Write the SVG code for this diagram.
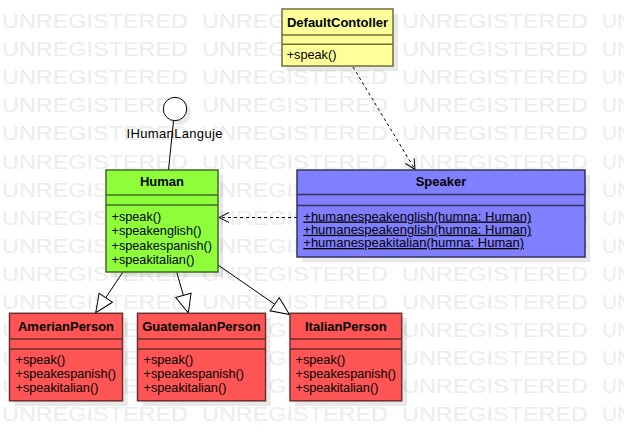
<svg xmlns="http://www.w3.org/2000/svg" width="624" height="441" viewBox="0 0 624 441">
<style>
text{font-family:"Liberation Sans",Arial,sans-serif;fill:#000}
text.wm{font-size:20px;fill:#ececec}
.t{font-size:13px;font-weight:bold;text-anchor:middle}
.m{font-size:12.7px}
.s{font-size:13px}
.u{text-decoration:underline}
.sh{fill:#000;fill-opacity:0.09}
.yel{fill:#ffff99;stroke:#6e6e3c;stroke-width:1.5}
.grn{fill:#8fff3c;stroke:#3f6b22;stroke-width:1.5}
.blu{fill:#8080ff;stroke:#33335e;stroke-width:1.5}
.red{fill:#ff5555;stroke:#6e2e2e;stroke-width:1.5}
.ly{stroke:#6e6e3c;stroke-width:1.5}
.lg{stroke:#3f6b22;stroke-width:1.5}
.lb{stroke:#33335e;stroke-width:1.5}
.lr{stroke:#6e2e2e;stroke-width:1.5}
.c{stroke:#000;stroke-width:1;fill:none}
.d{stroke-dasharray:3,3}
</style>
<defs>
<marker id="open" markerUnits="userSpaceOnUse" markerWidth="12" markerHeight="12" refX="10" refY="5" orient="auto" overflow="visible">
<path d="M0,0 L10,5 L0,10" fill="none" stroke="#000" stroke-width="1"/>
</marker>
<marker id="tri" markerUnits="userSpaceOnUse" markerWidth="20" markerHeight="18" refX="18" refY="8" orient="auto" overflow="visible">
<path d="M0,0 L18,8 L0,16 Z" fill="#fff" stroke="#000" stroke-width="1"/>
</marker>
</defs>
<rect width="624" height="441" fill="#fff"/>
<g id="watermark">
<text class="wm" y="28"><tspan x="2" textLength="186" lengthAdjust="spacingAndGlyphs">UNREGISTERED</tspan><tspan x="202" textLength="186" lengthAdjust="spacingAndGlyphs">UNREGISTERED</tspan><tspan x="402" textLength="186" lengthAdjust="spacingAndGlyphs">UNREGISTERED</tspan><tspan x="602" textLength="30" lengthAdjust="spacingAndGlyphs">UN</tspan></text>
<text class="wm" y="56.1"><tspan x="2" textLength="186" lengthAdjust="spacingAndGlyphs">UNREGISTERED</tspan><tspan x="202" textLength="186" lengthAdjust="spacingAndGlyphs">UNREGISTERED</tspan><tspan x="402" textLength="186" lengthAdjust="spacingAndGlyphs">UNREGISTERED</tspan><tspan x="602" textLength="30" lengthAdjust="spacingAndGlyphs">UN</tspan></text>
<text class="wm" y="84.2"><tspan x="2" textLength="186" lengthAdjust="spacingAndGlyphs">UNREGISTERED</tspan><tspan x="202" textLength="186" lengthAdjust="spacingAndGlyphs">UNREGISTERED</tspan><tspan x="402" textLength="186" lengthAdjust="spacingAndGlyphs">UNREGISTERED</tspan><tspan x="602" textLength="30" lengthAdjust="spacingAndGlyphs">UN</tspan></text>
<text class="wm" y="112.3"><tspan x="2" textLength="186" lengthAdjust="spacingAndGlyphs">UNREGISTERED</tspan><tspan x="202" textLength="186" lengthAdjust="spacingAndGlyphs">UNREGISTERED</tspan><tspan x="402" textLength="186" lengthAdjust="spacingAndGlyphs">UNREGISTERED</tspan><tspan x="602" textLength="30" lengthAdjust="spacingAndGlyphs">UN</tspan></text>
<text class="wm" y="140.4"><tspan x="2" textLength="186" lengthAdjust="spacingAndGlyphs">UNREGISTERED</tspan><tspan x="202" textLength="186" lengthAdjust="spacingAndGlyphs">UNREGISTERED</tspan><tspan x="402" textLength="186" lengthAdjust="spacingAndGlyphs">UNREGISTERED</tspan><tspan x="602" textLength="30" lengthAdjust="spacingAndGlyphs">UN</tspan></text>
<text class="wm" y="168.5"><tspan x="2" textLength="186" lengthAdjust="spacingAndGlyphs">UNREGISTERED</tspan><tspan x="202" textLength="186" lengthAdjust="spacingAndGlyphs">UNREGISTERED</tspan><tspan x="402" textLength="186" lengthAdjust="spacingAndGlyphs">UNREGISTERED</tspan><tspan x="602" textLength="30" lengthAdjust="spacingAndGlyphs">UN</tspan></text>
<text class="wm" y="196.6"><tspan x="2" textLength="186" lengthAdjust="spacingAndGlyphs">UNREGISTERED</tspan><tspan x="202" textLength="186" lengthAdjust="spacingAndGlyphs">UNREGISTERED</tspan><tspan x="402" textLength="186" lengthAdjust="spacingAndGlyphs">UNREGISTERED</tspan><tspan x="602" textLength="30" lengthAdjust="spacingAndGlyphs">UN</tspan></text>
<text class="wm" y="224.7"><tspan x="2" textLength="186" lengthAdjust="spacingAndGlyphs">UNREGISTERED</tspan><tspan x="202" textLength="186" lengthAdjust="spacingAndGlyphs">UNREGISTERED</tspan><tspan x="402" textLength="186" lengthAdjust="spacingAndGlyphs">UNREGISTERED</tspan><tspan x="602" textLength="30" lengthAdjust="spacingAndGlyphs">UN</tspan></text>
<text class="wm" y="252.8"><tspan x="2" textLength="186" lengthAdjust="spacingAndGlyphs">UNREGISTERED</tspan><tspan x="202" textLength="186" lengthAdjust="spacingAndGlyphs">UNREGISTERED</tspan><tspan x="402" textLength="186" lengthAdjust="spacingAndGlyphs">UNREGISTERED</tspan><tspan x="602" textLength="30" lengthAdjust="spacingAndGlyphs">UN</tspan></text>
<text class="wm" y="280.9"><tspan x="2" textLength="186" lengthAdjust="spacingAndGlyphs">UNREGISTERED</tspan><tspan x="202" textLength="186" lengthAdjust="spacingAndGlyphs">UNREGISTERED</tspan><tspan x="402" textLength="186" lengthAdjust="spacingAndGlyphs">UNREGISTERED</tspan><tspan x="602" textLength="30" lengthAdjust="spacingAndGlyphs">UN</tspan></text>
<text class="wm" y="309"><tspan x="2" textLength="186" lengthAdjust="spacingAndGlyphs">UNREGISTERED</tspan><tspan x="202" textLength="186" lengthAdjust="spacingAndGlyphs">UNREGISTERED</tspan><tspan x="402" textLength="186" lengthAdjust="spacingAndGlyphs">UNREGISTERED</tspan><tspan x="602" textLength="30" lengthAdjust="spacingAndGlyphs">UN</tspan></text>
<text class="wm" y="337.1"><tspan x="2" textLength="186" lengthAdjust="spacingAndGlyphs">UNREGISTERED</tspan><tspan x="202" textLength="186" lengthAdjust="spacingAndGlyphs">UNREGISTERED</tspan><tspan x="402" textLength="186" lengthAdjust="spacingAndGlyphs">UNREGISTERED</tspan><tspan x="602" textLength="30" lengthAdjust="spacingAndGlyphs">UN</tspan></text>
<text class="wm" y="365.2"><tspan x="2" textLength="186" lengthAdjust="spacingAndGlyphs">UNREGISTERED</tspan><tspan x="202" textLength="186" lengthAdjust="spacingAndGlyphs">UNREGISTERED</tspan><tspan x="402" textLength="186" lengthAdjust="spacingAndGlyphs">UNREGISTERED</tspan><tspan x="602" textLength="30" lengthAdjust="spacingAndGlyphs">UN</tspan></text>
<text class="wm" y="393.3"><tspan x="2" textLength="186" lengthAdjust="spacingAndGlyphs">UNREGISTERED</tspan><tspan x="202" textLength="186" lengthAdjust="spacingAndGlyphs">UNREGISTERED</tspan><tspan x="402" textLength="186" lengthAdjust="spacingAndGlyphs">UNREGISTERED</tspan><tspan x="602" textLength="30" lengthAdjust="spacingAndGlyphs">UN</tspan></text>
<text class="wm" y="421.4"><tspan x="2" textLength="186" lengthAdjust="spacingAndGlyphs">UNREGISTERED</tspan><tspan x="202" textLength="186" lengthAdjust="spacingAndGlyphs">UNREGISTERED</tspan><tspan x="402" textLength="186" lengthAdjust="spacingAndGlyphs">UNREGISTERED</tspan><tspan x="602" textLength="30" lengthAdjust="spacingAndGlyphs">UN</tspan></text>
</g>
<g id="shadows">
<rect class="sh" x="287" y="14" width="111" height="57"/>
<rect class="sh" x="111" y="175" width="112" height="102"/>
<rect class="sh" x="302" y="175" width="288" height="87"/>
<rect class="sh" x="14.5" y="318" width="113" height="88"/>
<rect class="sh" x="142.5" y="318" width="128" height="88"/>
<rect class="sh" x="295" y="318" width="112" height="88"/>
<circle class="sh" cx="179" cy="113" r="11.7"/>
</g>
<g id="connectors">
<line class="c" x1="173.5" y1="120.7" x2="168.5" y2="170"/>
<line class="c d" x1="353" y1="67" x2="415" y2="169.5" marker-end="url(#open)"/>
<line class="c d" x1="297" y1="217.5" x2="219" y2="217.5" marker-end="url(#open)"/>
<line class="c" x1="123" y1="272" x2="95.7" y2="312.7" marker-end="url(#tri)"/>
<line class="c" x1="176.7" y1="272" x2="188.3" y2="312.7" marker-end="url(#tri)"/>
<line class="c" x1="218" y1="265" x2="289.5" y2="314.5" marker-end="url(#tri)"/>
</g>
<g id="IHumanLanguje">
<circle cx="175" cy="109" r="11.7" fill="#fff" stroke="#000" stroke-width="1"/>
<text x="126.5" y="137.5" textLength="96" style="font-size:13px">IHumanLanguje</text>
</g>
<g id="DefaultContoller">
<rect class="yel" x="282" y="9" width="111" height="57"/>
<line class="ly" x1="282" y1="35" x2="393" y2="35"/>
<line class="ly" x1="282" y1="44.3" x2="393" y2="44.3"/>
<text class="t" x="337.5" y="26.5">DefaultContoller</text>
<text class="m" x="286.7" y="59">+speak()</text>
</g>
<g id="Human">
<rect class="grn" x="106" y="170" width="112" height="102"/>
<line class="lg" x1="106" y1="195" x2="218" y2="195"/>
<line class="lg" x1="106" y1="205" x2="218" y2="205"/>
<text class="t" x="162" y="186">Human</text>
<text class="m" x="111.5" y="221">+speak()</text>
<text class="m" x="111.5" y="235.3">+speakenglish()</text>
<text class="m" x="111.5" y="249.6">+speakespanish()</text>
<text class="m" x="111.5" y="264">+speakitalian()</text>
</g>
<g id="Speaker">
<rect class="blu" x="297" y="170" width="288" height="87"/>
<line class="lb" x1="297" y1="194.5" x2="585" y2="194.5"/>
<line class="lb" x1="297" y1="205.5" x2="585" y2="205.5"/>
<text class="t" x="441" y="186">Speaker</text>
<text class="s u" x="303.3" y="220.5">+humanespeakenglish(humna: Human)</text>
<text class="s u" x="303.3" y="233.8">+humanespeakenglish(humna: Human)</text>
<text class="s u" x="303.3" y="247">+humanespeakitalian(humna: Human)</text>
</g>
<g id="AmerianPerson">
<rect class="red" x="9.5" y="313.3" width="113" height="87.5"/>
<line class="lr" x1="9.5" y1="339" x2="122.5" y2="339"/>
<line class="lr" x1="9.5" y1="349" x2="122.5" y2="349"/>
<text class="t" x="66" y="331">AmerianPerson</text>
<text class="m" x="15.5" y="364">+speak()</text>
<text class="m" x="15.5" y="378.2">+speakespanish()</text>
<text class="m" x="15.5" y="392.4">+speakitalian()</text>
</g>
<g id="GuatemalanPerson">
<rect class="red" x="137.5" y="313.3" width="128" height="87.5"/>
<line class="lr" x1="137.5" y1="339" x2="265.5" y2="339"/>
<line class="lr" x1="137.5" y1="349" x2="265.5" y2="349"/>
<text class="t" x="201.5" y="331">GuatemalanPerson</text>
<text class="m" x="143.5" y="364">+speak()</text>
<text class="m" x="143.5" y="378.2">+speakespanish()</text>
<text class="m" x="143.5" y="392.4">+speakitalian()</text>
</g>
<g id="ItalianPerson">
<rect class="red" x="290" y="313.3" width="111.7" height="87.5"/>
<line class="lr" x1="290" y1="339" x2="401.7" y2="339"/>
<line class="lr" x1="290" y1="349" x2="401.7" y2="349"/>
<text class="t" x="345.8" y="331">ItalianPerson</text>
<text class="m" x="295.5" y="364">+speak()</text>
<text class="m" x="295.5" y="378.2">+speakespanish()</text>
<text class="m" x="295.5" y="392.4">+speakitalian()</text>
</g>
</svg>
